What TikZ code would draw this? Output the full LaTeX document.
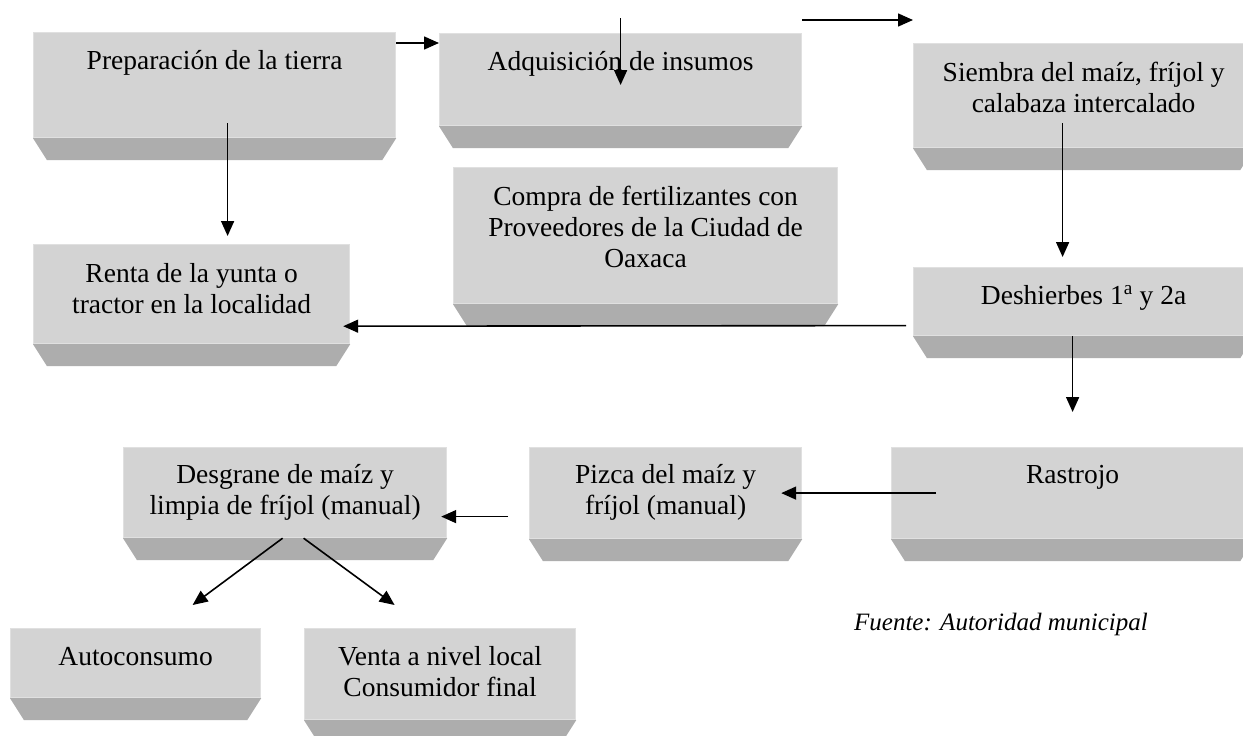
\documentclass[tikz,border=0pt]{standalone}
\usepackage{fontspec}
\setmainfont{Liberation Serif}
\usetikzlibrary{arrows.meta}
\definecolor{cara}{RGB}{211,211,211}
\definecolor{bisel}{RGB}{173,173,173}
\definecolor{borde}{RGB}{224,224,224}
\tikzstyle{Cara}=[rectangle, fill=cara, draw=borde, line width=1.2pt, anchor=north west, inner sep=0pt]
\tikzstyle{Bisel}=[fill=bisel]
\tikzstyle{Texto}=[anchor=base, align=center, inner sep=0pt, font=\fontsize{27.5}{31}\selectfont]
\tikzstyle{Fuente}=[anchor=base, inner sep=0pt, font=\fontsize{25}{29}\selectfont\itshape]
\tikzstyle{Flecha}=[-{Triangle[length=15pt,width=13pt]}, line width=1.6pt]

\begin{document}
\begin{tikzpicture}[x=1pt, y=-1pt]
\clip (0,0) rectangle (1243,736);
\fill[white] (0,0) rectangle (1243,736);

% caras de las cajas
\node[Cara, minimum width=362pt, minimum height=105pt](prep) at (33,32) {};
\node[Cara, minimum width=362pt, minimum height=92pt](adq) at (439,33) {};
\node[Cara, minimum width=340pt, minimum height=104pt](siembra) at (913,43) {};
\node[Cara, minimum width=316pt, minimum height=99pt](renta) at (33,244) {};
\node[Cara, minimum width=384pt, minimum height=136pt](compra) at (453,167) {};
\node[Cara, minimum width=340pt, minimum height=68pt](desh) at (913,267) {};
\node[Cara, minimum width=323pt, minimum height=90pt](desgrane) at (123,447) {};
\node[Cara, minimum width=272pt, minimum height=91pt](pizca) at (529,447) {};
\node[Cara, minimum width=362pt, minimum height=91pt](rastrojo) at (891,447) {};
\node[Cara, minimum width=250pt, minimum height=69pt](auto) at (10,628) {};
\node[Cara, minimum width=271pt, minimum height=91pt](venta) at (304,628) {};

% biseles
\foreach \n in {prep,adq,siembra,renta,compra,desh,desgrane,pizca,rastrojo,auto,venta}
  \fill[Bisel] (\n.south west) -- (\n.south east) -- ([shift={(-14pt,-22pt)}]\n.south east) -- ([shift={(14pt,-22pt)}]\n.south west) -- cycle;

% textos (base = ultima linea)
\node[Texto](prep-t) at ([yshift=-37pt]prep.north) {Preparación de la tierra};
\node[Texto](adq-t) at ([yshift=-37pt]adq.north) {Adquisición de insumos};
\node[Texto](siembra-t) at ([yshift=-69pt]siembra.north) {Siembra del maíz, fríjol y\\calabaza intercalado};
\node[Texto](renta-t) at ([yshift=-69pt]renta.north) {Renta de la yunta o\\tractor en la localidad};
\node[Texto](compra-t) at ([yshift=-100pt]compra.north) {Compra de fertilizantes con\\Proveedores de la Ciudad de\\Oaxaca};
\node[Texto](desh-t) at ([yshift=-37pt]desh.north) {Deshierbes 1\textsuperscript{a} y 2a};
\node[Texto](desgrane-t) at ([yshift=-67pt]desgrane.north) {Desgrane de maíz y\\limpia de fríjol (manual)};
\node[Texto](pizca-t) at ([yshift=-67pt]pizca.north) {Pizca del maíz y\\fríjol (manual)};
\node[Texto](rastrojo-t) at ([yshift=-36pt]rastrojo.north) {Rastrojo};
\node[Texto](auto-t) at ([yshift=-37pt]auto.north) {Autoconsumo};
\node[Texto](venta-t) at ([yshift=-68pt]venta.north) {Venta a nivel local\\Consumidor final};
\node[Fuente](fuente) at (1001,630) {Fuente: Autoridad municipal};

% flechas
\draw[Flecha] ([yshift=-11pt]prep.north east) -- ([yshift=-10pt]adq.north west);
\draw[Flecha] ([yshift=15pt]adq.north) -- ([yshift=-52pt]adq.north);
\draw[Flecha] ([yshift=13pt]adq.north east) -- ([yshift=23pt]siembra.north west);
\draw[Flecha] ([xshift=13pt,yshift=15pt]prep.south) -- ([xshift=36pt,yshift=8pt]renta.north);
\draw[Flecha] ([xshift=-21pt,yshift=25pt]siembra.south) -- ([xshift=-21pt,yshift=10pt]desh.north);
\draw[Flecha] ([xshift=-7pt,yshift=-24pt]desh.west) -- ([xshift=-7pt,yshift=18pt]renta.south east);
\draw[Flecha] ([xshift=-11pt]desh.south) -- ([yshift=35pt]rastrojo.north);
\draw[Flecha] ([xshift=45pt]rastrojo.west) -- ([xshift=-21pt]pizca.east);
\draw[Flecha] ([xshift=-21pt,yshift=-23.5pt]pizca.west) -- ([xshift=-6pt,yshift=-24pt]desgrane.east);
\draw[Flecha] ([xshift=-2.5pt]desgrane.south) -- ([xshift=57pt,yshift=23pt]auto.north);
\draw[Flecha] ([xshift=18.5pt]desgrane.south) -- ([xshift=-45.5pt,yshift=23pt]venta.north);
\end{tikzpicture}
\end{document}
